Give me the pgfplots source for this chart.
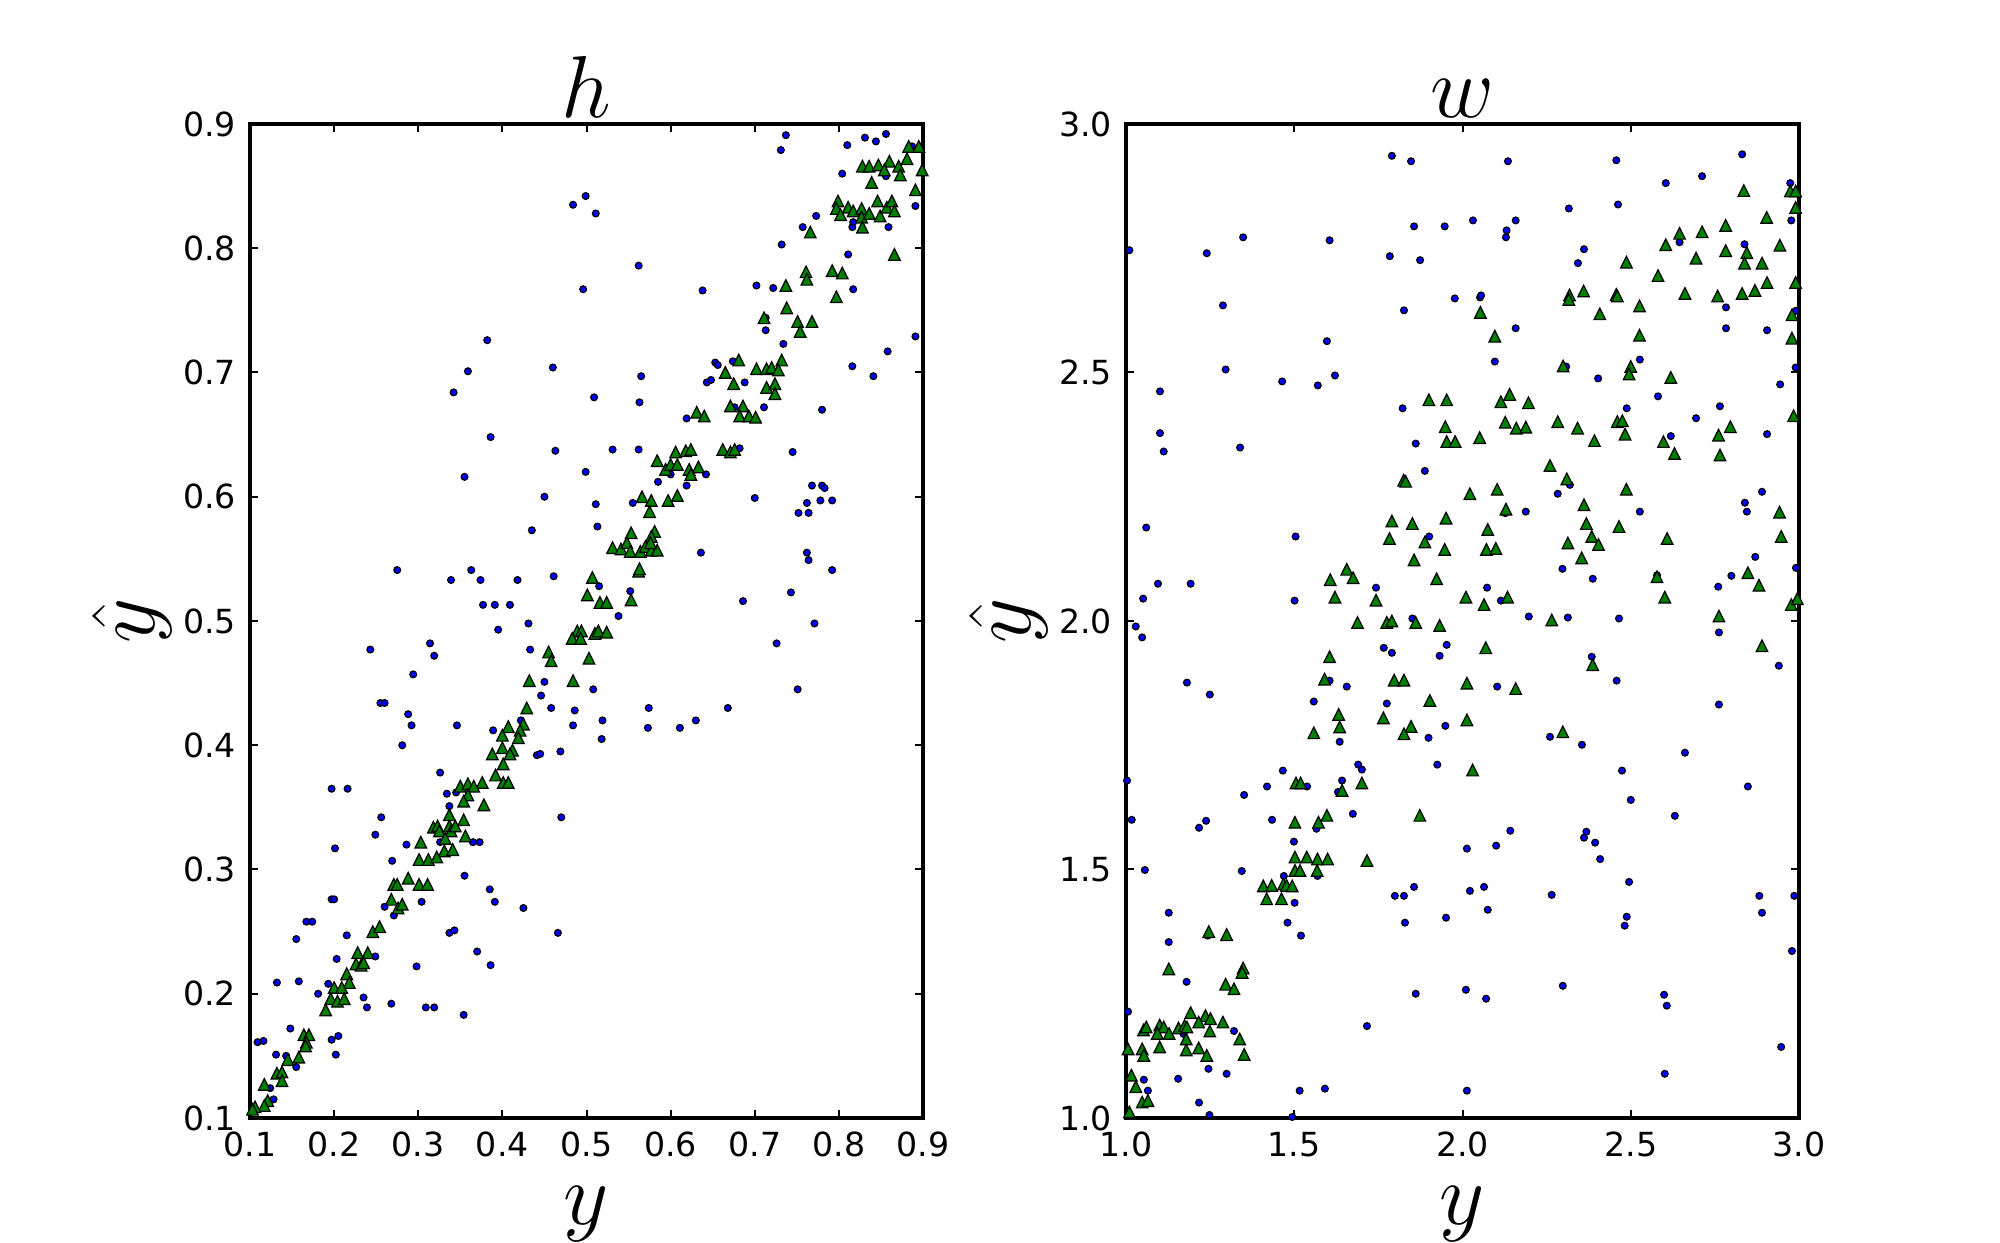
\RequirePackage{fix-cm}
\documentclass[border=0pt]{standalone}
\usepackage{fontspec}
\setmainfont{DejaVu Sans}
\usepackage{pgfplots}
\pgfplotsset{compat=1.18}

\definecolor{mplblue}{rgb}{0,0,1}
\definecolor{mplgreen}{rgb}{0,0.5,0}

% upward triangle as wide as it is tall
\pgfdeclareplotmark{mtri}{%
  \pgfpathmoveto{\pgfqpoint{0pt}{\pgfplotmarksize}}%
  \pgfpathlineto{\pgfqpoint{-\pgfplotmarksize}{-\pgfplotmarksize}}%
  \pgfpathlineto{\pgfqpoint{\pgfplotmarksize}{-\pgfplotmarksize}}%
  \pgfpathclose
  \pgfusepathqfillstroke}

\pgfplotsset{
  mplaxis/.style={
    scale only axis, width=168.25pt, height=248.5pt,
    axis line style={line width=1pt},
    tick align=inside, major tick length=2pt,
    tick style={black, line width=0.5pt},
    ticklabel style={font=\fontsize{8.3}{10}\selectfont},
  },
  bluedots/.style={only marks, mark=*, mark size=0.85pt,
    mark options={fill=mplblue, draw=black, line width=0.3pt}},
  greentris/.style={only marks, mark=mtri, mark size=1.45pt,
    mark options={fill=mplgreen, draw=black, line width=0.3pt}},
}

% h: predictions from the two models
\pgfplotstableread{
x y
0.737 0.891
0.731 0.879
0.831 0.889
0.844 0.886
0.856 0.892
0.810 0.883
0.887 0.882
0.804 0.860
0.856 0.858
0.891 0.834
0.773 0.826
0.757 0.817
0.816 0.817
0.817 0.821
0.859 0.817
0.484 0.835
0.499 0.842
0.511 0.828
0.732 0.803
0.811 0.795
0.562 0.786
0.496 0.767
0.638 0.766
0.702 0.770
0.722 0.768
0.817 0.767
0.713 0.744
0.713 0.734
0.734 0.723
0.891 0.729
0.858 0.717
0.382 0.726
0.359 0.701
0.460 0.704
0.565 0.697
0.653 0.708
0.656 0.706
0.674 0.709
0.816 0.705
0.841 0.697
0.342 0.684
0.509 0.680
0.563 0.676
0.643 0.692
0.648 0.694
0.688 0.692
0.711 0.672
0.780 0.670
0.619 0.663
0.676 0.672
0.386 0.648
0.463 0.637
0.531 0.638
0.562 0.638
0.682 0.639
0.745 0.636
0.355 0.616
0.499 0.620
0.450 0.600
0.511 0.594
0.555 0.595
0.585 0.612
0.600 0.618
0.619 0.609
0.642 0.618
0.700 0.599
0.768 0.609
0.780 0.609
0.783 0.607
0.762 0.595
0.778 0.597
0.792 0.597
0.752 0.587
0.764 0.587
0.435 0.573
0.513 0.576
0.636 0.555
0.762 0.555
0.764 0.549
0.792 0.541
0.275 0.541
0.363 0.541
0.339 0.533
0.374 0.533
0.418 0.533
0.461 0.536
0.515 0.528
0.552 0.524
0.743 0.523
0.686 0.516
0.377 0.513
0.391 0.513
0.409 0.513
0.538 0.504
0.431 0.498
0.395 0.493
0.771 0.498
0.243 0.477
0.314 0.482
0.319 0.472
0.433 0.477
0.726 0.482
0.294 0.457
0.450 0.451
0.446 0.440
0.508 0.445
0.751 0.445
0.255 0.434
0.260 0.434
0.458 0.430
0.486 0.428
0.574 0.430
0.668 0.430
0.288 0.425
0.292 0.416
0.346 0.416
0.389 0.412
0.422 0.420
0.484 0.416
0.519 0.420
0.573 0.414
0.611 0.414
0.630 0.420
0.518 0.405
0.281 0.400
0.441 0.392
0.445 0.393
0.469 0.395
0.326 0.378
0.197 0.365
0.216 0.365
0.334 0.361
0.345 0.362
0.337 0.351
0.470 0.342
0.256 0.342
0.249 0.328
0.201 0.317
0.286 0.320
0.326 0.322
0.365 0.322
0.373 0.322
0.269 0.307
0.355 0.295
0.385 0.284
0.391 0.274
0.425 0.269
0.197 0.276
0.200 0.276
0.304 0.274
0.260 0.270
0.271 0.263
0.167 0.258
0.174 0.258
0.337 0.249
0.343 0.251
0.466 0.249
0.155 0.244
0.215 0.247
0.370 0.234
0.249 0.230
0.203 0.228
0.298 0.222
0.386 0.223
0.132 0.209
0.158 0.210
0.193 0.208
0.181 0.200
0.235 0.197
0.239 0.189
0.268 0.192
0.309 0.189
0.319 0.189
0.354 0.183
0.148 0.172
0.109 0.161
0.116 0.162
0.197 0.163
0.205 0.166
0.131 0.151
0.143 0.150
0.202 0.151
0.155 0.141
0.124 0.124
0.128 0.115
}\hblue

\pgfplotstableread{
x y
0.883 0.882
0.895 0.882
0.860 0.870
0.881 0.872
0.828 0.866
0.836 0.866
0.847 0.867
0.854 0.863
0.871 0.866
0.873 0.859
0.899 0.863
0.839 0.853
0.891 0.847
0.799 0.838
0.797 0.832
0.811 0.833
0.802 0.827
0.817 0.830
0.827 0.832
0.827 0.825
0.836 0.828
0.846 0.838
0.849 0.826
0.857 0.833
0.863 0.838
0.866 0.830
0.828 0.817
0.766 0.813
0.866 0.795
0.761 0.781
0.762 0.775
0.792 0.782
0.804 0.780
0.797 0.761
0.737 0.770
0.738 0.752
0.711 0.744
0.751 0.741
0.768 0.741
0.754 0.733
0.681 0.710
0.732 0.710
0.665 0.700
0.702 0.703
0.714 0.703
0.720 0.704
0.728 0.702
0.675 0.691
0.714 0.688
0.724 0.691
0.724 0.683
0.671 0.673
0.686 0.673
0.682 0.665
0.693 0.665
0.701 0.664
0.631 0.668
0.640 0.665
0.606 0.636
0.618 0.637
0.624 0.638
0.662 0.638
0.671 0.636
0.676 0.638
0.584 0.629
0.594 0.622
0.600 0.626
0.608 0.626
0.622 0.622
0.624 0.618
0.633 0.624
0.566 0.600
0.577 0.597
0.597 0.597
0.608 0.601
0.575 0.588
0.553 0.571
0.581 0.572
0.577 0.568
0.531 0.559
0.541 0.558
0.548 0.563
0.552 0.556
0.564 0.556
0.570 0.560
0.577 0.557
0.584 0.557
0.576 0.563
0.562 0.540
0.563 0.542
0.507 0.535
0.501 0.521
0.516 0.515
0.524 0.515
0.553 0.517
0.489 0.492
0.494 0.492
0.483 0.486
0.493 0.486
0.510 0.490
0.514 0.492
0.524 0.491
0.455 0.475
0.458 0.468
0.503 0.470
0.432 0.452
0.484 0.452
0.429 0.430
0.425 0.417
0.407 0.415
0.421 0.412
0.400 0.408
0.419 0.406
0.400 0.398
0.388 0.393
0.412 0.396
0.409 0.393
0.401 0.385
0.392 0.376
0.401 0.370
0.407 0.370
0.376 0.370
0.350 0.367
0.359 0.369
0.366 0.367
0.359 0.360
0.354 0.355
0.378 0.352
0.337 0.344
0.354 0.340
0.318 0.334
0.323 0.335
0.325 0.331
0.337 0.335
0.339 0.331
0.344 0.335
0.356 0.327
0.332 0.325
0.303 0.322
0.331 0.315
0.341 0.316
0.301 0.308
0.312 0.308
0.322 0.310
0.288 0.293
0.271 0.288
0.275 0.288
0.301 0.288
0.311 0.288
0.268 0.276
0.276 0.269
0.281 0.272
0.246 0.250
0.254 0.254
0.228 0.233
0.240 0.233
0.226 0.224
0.232 0.223
0.235 0.225
0.215 0.216
0.218 0.209
0.200 0.205
0.209 0.205
0.196 0.196
0.204 0.194
0.212 0.196
0.190 0.187
0.164 0.167
0.170 0.167
0.167 0.161
0.166 0.158
0.158 0.149
0.145 0.147
0.132 0.136
0.138 0.137
0.138 0.130
0.117 0.127
0.121 0.114
0.117 0.110
0.106 0.109
0.103 0.107
}\hgreen

% w: predictions from the two models
\pgfplotstableread{
x y
1.790 2.936
1.847 2.925
2.135 2.925
2.457 2.927
2.831 2.939
2.604 2.881
2.712 2.895
2.974 2.881
2.462 2.838
2.316 2.830
1.856 2.794
1.947 2.794
2.031 2.806
2.158 2.806
2.131 2.786
2.129 2.772
2.977 2.806
1.348 2.772
1.605 2.766
1.010 2.746
1.240 2.740
1.784 2.734
1.874 2.726
2.361 2.748
2.343 2.720
2.645 2.762
2.838 2.758
1.288 2.635
1.826 2.625
1.977 2.649
2.052 2.651
2.055 2.655
2.783 2.631
2.990 2.624
2.158 2.589
2.783 2.589
2.905 2.585
1.597 2.563
2.096 2.522
2.527 2.526
2.308 2.512
2.990 2.510
1.296 2.506
1.621 2.494
1.464 2.482
1.570 2.474
2.403 2.488
2.944 2.476
1.101 2.462
2.581 2.452
1.822 2.428
2.488 2.428
2.765 2.432
2.694 2.408
1.101 2.378
1.112 2.341
1.339 2.349
1.861 2.357
2.619 2.372
2.905 2.376
1.888 2.302
2.283 2.256
2.319 2.274
2.890 2.260
2.839 2.238
2.845 2.220
2.188 2.220
2.127 2.217
2.527 2.220
1.060 2.188
1.504 2.170
1.901 2.170
2.870 2.129
2.991 2.107
2.297 2.105
2.387 2.085
2.578 2.092
2.799 2.091
1.095 2.075
1.192 2.075
1.743 2.067
2.073 2.067
2.760 2.069
1.051 2.045
1.501 2.041
2.114 2.041
1.851 2.005
2.197 2.009
2.313 2.007
2.465 2.005
1.029 1.989
1.048 1.967
2.762 1.977
1.953 1.952
1.766 1.946
1.790 1.936
1.932 1.930
2.384 1.928
2.940 1.910
1.605 1.880
1.181 1.876
1.249 1.852
1.656 1.868
2.103 1.868
2.458 1.880
1.558 1.838
1.775 1.834
2.762 1.832
1.949 1.789
1.899 1.765
2.260 1.767
1.635 1.757
2.355 1.751
2.661 1.735
1.690 1.711
1.701 1.701
1.925 1.711
1.466 1.699
2.474 1.699
1.003 1.679
1.419 1.667
1.642 1.679
1.538 1.667
2.848 1.667
1.351 1.650
1.630 1.656
2.500 1.640
2.631 1.608
1.674 1.612
1.017 1.600
1.238 1.598
1.217 1.584
1.434 1.600
1.566 1.582
2.142 1.578
2.368 1.576
2.361 1.564
2.394 1.554
2.100 1.548
2.013 1.542
2.409 1.521
1.499 1.556
1.056 1.499
1.344 1.497
1.469 1.487
1.569 1.487
2.495 1.475
1.856 1.465
2.022 1.457
2.064 1.465
1.799 1.447
1.826 1.447
2.265 1.449
2.882 1.447
2.986 1.447
1.501 1.433
2.075 1.419
2.890 1.413
1.127 1.413
1.480 1.393
1.829 1.393
1.951 1.403
2.488 1.405
2.482 1.387
1.520 1.367
1.243 1.367
1.127 1.354
2.979 1.336
1.180 1.274
1.861 1.250
2.010 1.258
2.070 1.240
2.298 1.266
2.599 1.248
2.607 1.226
1.006 1.214
1.716 1.185
1.321 1.175
1.171 1.169
2.947 1.143
1.245 1.099
1.299 1.089
1.155 1.079
1.053 1.077
1.065 1.055
1.516 1.055
1.591 1.059
2.013 1.055
2.601 1.089
1.217 1.031
1.248 1.006
1.494 1.002
}\wblue

\pgfplotstableread{
x y
2.836 2.866
2.974 2.865
2.990 2.865
2.990 2.832
2.904 2.812
2.782 2.796
2.645 2.780
2.712 2.783
2.604 2.757
2.943 2.756
2.782 2.745
2.845 2.741
2.694 2.730
2.487 2.722
2.838 2.720
2.890 2.720
2.581 2.695
2.360 2.664
2.318 2.656
2.316 2.647
2.457 2.657
2.460 2.654
2.661 2.659
2.758 2.654
2.831 2.659
2.869 2.665
2.905 2.681
2.990 2.681
2.526 2.634
2.408 2.618
2.053 2.621
2.979 2.616
2.096 2.573
2.526 2.575
2.979 2.569
2.299 2.513
2.500 2.512
2.495 2.497
2.619 2.490
2.140 2.456
2.114 2.441
1.900 2.445
1.953 2.445
2.196 2.439
2.984 2.413
2.127 2.400
2.160 2.388
2.188 2.390
1.949 2.391
2.283 2.401
2.342 2.388
2.460 2.401
2.475 2.403
2.483 2.376
2.796 2.391
1.953 2.361
1.978 2.361
2.051 2.369
2.392 2.363
2.597 2.361
2.761 2.374
2.630 2.337
2.765 2.334
2.260 2.313
2.310 2.286
1.825 2.283
1.831 2.281
2.022 2.256
2.103 2.265
2.487 2.265
2.129 2.225
2.361 2.234
2.942 2.219
1.790 2.201
1.851 2.196
1.951 2.207
2.075 2.184
2.368 2.196
2.465 2.190
2.947 2.170
1.783 2.166
1.888 2.159
1.947 2.144
2.071 2.144
2.099 2.146
2.313 2.157
2.384 2.170
2.404 2.154
2.608 2.166
1.856 2.123
2.354 2.127
1.656 2.104
1.607 2.083
1.675 2.087
1.923 2.085
2.578 2.089
2.848 2.097
2.881 2.072
1.621 2.048
1.743 2.042
2.010 2.048
2.134 2.048
2.064 2.033
2.601 2.048
2.977 2.033
2.995 2.045
1.688 1.997
1.775 1.997
1.790 2.000
1.861 1.997
1.932 1.991
2.265 2.002
2.762 2.010
2.069 1.946
2.890 1.950
1.605 1.928
2.387 1.912
1.590 1.883
1.797 1.881
1.826 1.881
2.013 1.875
2.158 1.864
1.903 1.840
1.632 1.812
1.765 1.805
2.013 1.801
1.635 1.787
1.847 1.788
1.558 1.775
1.826 1.773
2.298 1.777
2.030 1.700
1.505 1.674
1.519 1.674
1.701 1.674
1.642 1.659
1.502 1.595
1.572 1.595
1.597 1.609
1.873 1.609
1.502 1.525
1.537 1.525
1.569 1.521
1.599 1.521
1.716 1.518
1.502 1.498
1.517 1.498
1.568 1.498
1.408 1.467
1.433 1.468
1.468 1.471
1.477 1.468
1.494 1.467
1.418 1.441
1.462 1.441
1.246 1.375
1.299 1.369
1.127 1.300
1.348 1.302
1.345 1.293
1.296 1.269
1.321 1.260
1.192 1.212
1.236 1.206
1.251 1.200
1.100 1.187
1.112 1.183
1.156 1.181
1.174 1.186
1.216 1.193
1.288 1.193
1.052 1.177
1.060 1.183
1.093 1.170
1.128 1.170
1.181 1.183
1.249 1.175
1.179 1.159
1.338 1.159
1.006 1.139
1.048 1.139
1.100 1.143
1.179 1.137
1.216 1.141
1.240 1.126
1.351 1.128
1.053 1.126
1.016 1.086
1.029 1.063
1.048 1.032
1.065 1.035
1.010 1.012
}\wgreen

\begin{document}
\begin{tikzpicture}
\path[use as bounding box] (0,0) rectangle (500pt,310.5pt);

\begin{axis}[mplaxis, name=L, at={(62.5pt,31pt)}, anchor=south west,
  xmin=0.1, xmax=0.9, ymin=0.1, ymax=0.9,
  xtick={0.1,0.2,0.3,0.4,0.5,0.6,0.7,0.8,0.9},
  xticklabels={0.1,0.2,0.3,0.4,0.5,0.6,0.7,0.8,0.9},
  ytick={0.1,0.2,0.3,0.4,0.5,0.6,0.7,0.8,0.9},
  yticklabels={0.1,0.2,0.3,0.4,0.5,0.6,0.7,0.8,0.9}]
  \addplot[bluedots] table[x=x, y=y] {\hblue};
  \addplot[greentris] table[x=x, y=y] {\hgreen};
\end{axis}

\begin{axis}[mplaxis, name=R, at={(281.5pt,31pt)}, anchor=south west,
  xmin=1, xmax=3, ymin=1, ymax=3,
  xtick={1,1.5,2,2.5,3},
  xticklabels={1.0,1.5,2.0,2.5,3.0},
  ytick={1,1.5,2,2.5,3},
  yticklabels={1.0,1.5,2.0,2.5,3.0}]
  \addplot[bluedots] table[x=x, y=y] {\wblue};
  \addplot[greentris] table[x=x, y=y] {\wgreen};
\end{axis}

\begin{scope}[every node/.style={font=\fontsize{22}{26}\selectfont, inner sep=1pt}]
  \node[anchor=base] at ([yshift=1.5pt]L.north) {$h$};
  \node[anchor=base] at ([yshift=-26.5pt]L.south) {$y$};
  \node[anchor=base, rotate=90] at ([xshift=-24pt]L.west) {$\hat{y}$};
  \node[anchor=base] at ([yshift=1.5pt]R.north) {$w$};
  \node[anchor=base] at ([yshift=-26.5pt]R.south) {$y$};
  \node[anchor=base, rotate=90] at ([xshift=-24pt]R.west) {$\hat{y}$};
\end{scope}
\end{tikzpicture}
\end{document}
